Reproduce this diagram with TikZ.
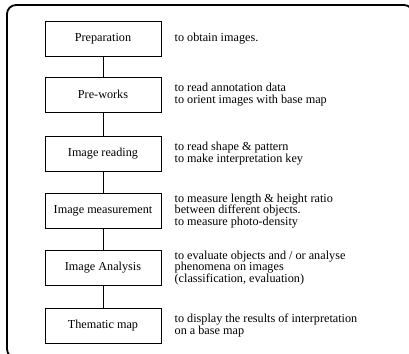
\documentclass[tikz,border=0pt]{standalone}
\usepackage{fontspec}
\setmainfont{Liberation Serif}
\usetikzlibrary{positioning}
\tikzset{
    stage/.style = {rectangle, draw=black, line width=0.9pt, minimum width=116pt, minimum height=35pt, inner sep=0pt, font=\fontsize{12.2}{11.5}\selectfont},
    note/.style = {inner sep=0pt, align=left, anchor=west, font=\fontsize{12.2}{11.5}\selectfont},
    link/.style = {draw=black, line width=0.9pt},
    frame/.style = {draw=black, line width=1.8pt, rounded corners=9pt}
}

\begin{document}
\begin{tikzpicture}[x=1pt,y=-1pt]
\useasboundingbox (0,0) rectangle (409,353);
\clip (0,0) rectangle (409,353);
\draw[frame] (7,5) rectangle (413,358);
%
\node[stage] at (103,39.0) (prep) {Preparation};
\node[stage] at (103,94.5) (prew) {Pre-works};
\node[stage] at (103,153.5) (read) {Image reading};
\node[stage] at (103,211.0) (meas) {Image measurement};
\node[stage] at (103,268.0) (anal) {Image Analysis};
\node[stage] at (103,325.5) (them) {Thematic map};
%
\node[note, right=13pt of prep] (prepn) {to obtain images.};
\node[note, right=13pt of prew] (prewn) {to read annotation data\\to orient images with base map};
\node[note, right=13pt of read] (readn) {to read shape \& pattern\\to make interpretation key};
\node[note, right=13pt of meas] (measn) {to measure length \& height ratio\\between different objects.\\to measure photo-density};
\node[note, right=13pt of anal] (analn) {to evaluate objects and / or analyse\\phenomena on images\\(classification, evaluation)};
\node[note, right=13pt of them] (themn) {to display the results of interpretation\\on a base map};
%
\draw[link] (prep) -- (prew);
\draw[link] (prew) -- (read);
\draw[link] (read) -- (meas);
\draw[link] (meas) -- (anal);
\draw[link] (anal) -- (them);
\end{tikzpicture}
\end{document}
